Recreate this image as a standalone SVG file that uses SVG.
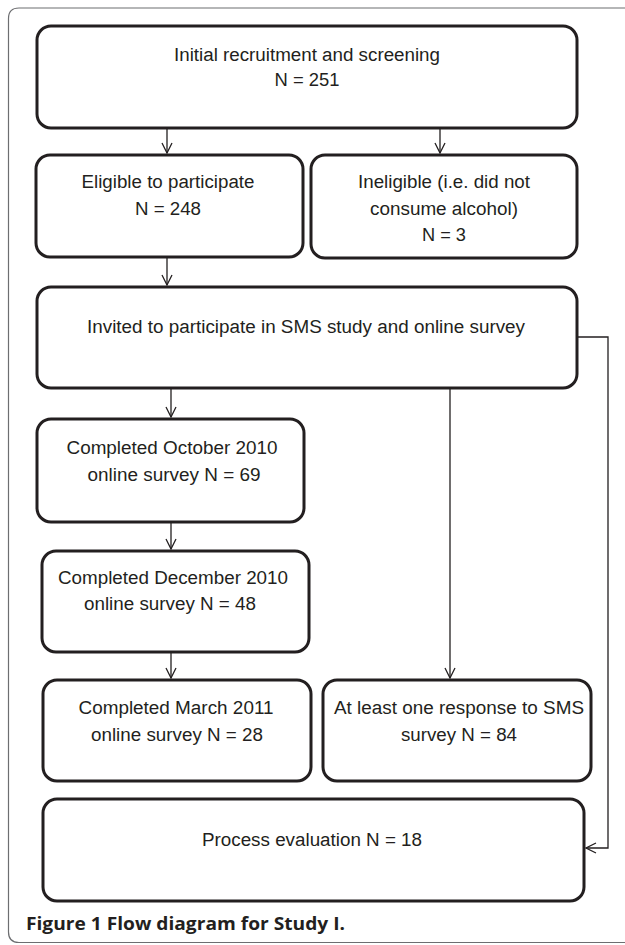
<svg xmlns="http://www.w3.org/2000/svg" width="625" height="945" viewBox="0 0 625 945">
<defs>
<marker id="arr" viewBox="0 0 12 12" refX="11" refY="6" markerWidth="12" markerHeight="12" markerUnits="userSpaceOnUse" orient="auto">
<path d="M1,1 L11,6 L1,11" fill="none" stroke="#231f20" stroke-width="1.3"/>
</marker>
<style>
.box{fill:#fff;stroke:#231f20;stroke-width:3}
.t{font-family:"Liberation Sans",Arial,sans-serif;font-size:18px;fill:#231f20;text-anchor:middle}
.c{fill:none;stroke:#231f20;stroke-width:1.3}
.cap{font-family:"Open Sans","Noto Sans",sans-serif;font-weight:bold;font-size:17px;fill:#231f20}
</style>
</defs>
<rect width="625" height="945" fill="#fff"/>
<path d="M640,8 H19 Q8.5,8 8.5,18.5 V932 Q8.5,942.5 19,942.5 H640" fill="none" stroke="#6d6e71" stroke-width="1.2"/>
<g id="n1"><rect class="box" x="37" y="26" width="540" height="102" rx="14"/>
<text class="t" x="307" y="61" textLength="266" lengthAdjust="spacingAndGlyphs">Initial recruitment and screening</text>
<text class="t" x="307" y="86" textLength="65" lengthAdjust="spacingAndGlyphs">N = 251</text></g>
<g id="n2"><rect class="box" x="36" y="155" width="267" height="102" rx="14"/>
<text class="t" x="168" y="188" textLength="173" lengthAdjust="spacingAndGlyphs">Eligible to participate</text>
<text class="t" x="168" y="215" textLength="66" lengthAdjust="spacingAndGlyphs">N = 248</text></g>
<g id="n3"><rect class="box" x="311" y="155" width="266" height="103" rx="14"/>
<text class="t" x="444" y="188" textLength="172" lengthAdjust="spacingAndGlyphs">Ineligible (i.e. did not</text>
<text class="t" x="444" y="215" textLength="148" lengthAdjust="spacingAndGlyphs">consume alcohol)</text>
<text class="t" x="444" y="241" textLength="44" lengthAdjust="spacingAndGlyphs">N = 3</text></g>
<g id="n4"><rect class="box" x="37" y="287" width="540" height="101" rx="14"/>
<text class="t" x="306" y="333" textLength="438" lengthAdjust="spacingAndGlyphs">Invited to participate in SMS study and online survey</text></g>
<g id="n5"><rect class="box" x="37" y="419" width="267" height="103" rx="14"/>
<text class="t" x="172" y="454" textLength="211" lengthAdjust="spacingAndGlyphs">Completed October 2010</text>
<text class="t" x="174" y="481" textLength="173" lengthAdjust="spacingAndGlyphs">online survey N = 69</text></g>
<g id="n6"><rect class="box" x="42" y="551" width="267" height="101" rx="14"/>
<text class="t" x="173" y="584" textLength="230" lengthAdjust="spacingAndGlyphs">Completed December 2010</text>
<text class="t" x="170" y="610" textLength="172" lengthAdjust="spacingAndGlyphs">online survey N = 48</text></g>
<g id="n7"><rect class="box" x="43" y="680" width="268" height="101" rx="14"/>
<text class="t" x="176" y="714" textLength="195" lengthAdjust="spacingAndGlyphs">Completed March 2011</text>
<text class="t" x="177" y="741" textLength="172" lengthAdjust="spacingAndGlyphs">online survey N = 28</text></g>
<g id="n8"><rect class="box" x="323" y="680" width="268" height="101" rx="14"/>
<text class="t" x="459" y="714" textLength="250" lengthAdjust="spacingAndGlyphs">At least one response to SMS</text>
<text class="t" x="459" y="741" textLength="116" lengthAdjust="spacingAndGlyphs">survey N = 84</text></g>
<g id="n9"><rect class="box" x="43" y="799" width="541" height="102" rx="14"/>
<text class="t" x="312" y="846" textLength="220" lengthAdjust="spacingAndGlyphs">Process evaluation N = 18</text></g>
<g id="connectors">
<path class="c" d="M167,128 V153" marker-end="url(#arr)"/>
<path class="c" d="M440,128 V153" marker-end="url(#arr)"/>
<path class="c" d="M167,257 V285" marker-end="url(#arr)"/>
<path class="c" d="M171,388 V417" marker-end="url(#arr)"/>
<path class="c" d="M450,388 V678" marker-end="url(#arr)"/>
<path class="c" d="M171,522 V549" marker-end="url(#arr)"/>
<path class="c" d="M171,652 V678" marker-end="url(#arr)"/>
<path class="c" d="M578,337 H608 V848 H586" marker-end="url(#arr)"/>
</g>
<text class="cap" x="26" y="930" textLength="319" lengthAdjust="spacingAndGlyphs">Figure 1 Flow diagram for Study I.</text>
</svg>
